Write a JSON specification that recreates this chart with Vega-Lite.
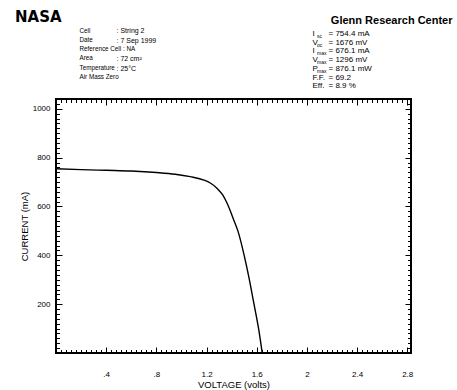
{
  "$schema": "https://vega.github.io/schema/vega-lite/v6.json",
  "width": 355,
  "height": 254,
  "autosize": {"type": "none"},
  "padding": {"left": 56, "top": 99, "right": 46, "bottom": 37},
  "background": "white",
  "title": {"text": "NASA", "anchor": "start", "frame": "group", "dx": -41, "dy": 15, "offset": 4, "font": "DejaVu Sans", "fontSize": 15, "fontWeight": "bold", "color": "black"},
  "data": {"values": [
    {"voltage": 0, "current": 754.4},
    {"voltage": 0.2, "current": 751},
    {"voltage": 0.4, "current": 748},
    {"voltage": 0.6, "current": 745},
    {"voltage": 0.8, "current": 739},
    {"voltage": 0.95, "current": 732},
    {"voltage": 1.07, "current": 722},
    {"voltage": 1.18, "current": 708},
    {"voltage": 1.23, "current": 696},
    {"voltage": 1.285, "current": 674},
    {"voltage": 1.33, "current": 646},
    {"voltage": 1.364, "current": 613},
    {"voltage": 1.417, "current": 545},
    {"voltage": 1.45, "current": 500},
    {"voltage": 1.5, "current": 400},
    {"voltage": 1.537, "current": 312},
    {"voltage": 1.577, "current": 204},
    {"voltage": 1.617, "current": 94},
    {"voltage": 1.644, "current": 0}
  ]},
  "layer": [
    {
      "mark": {"type": "line", "color": "black", "strokeWidth": 1.4, "interpolate": "monotone"},
      "encoding": {
        "x": {"field": "voltage", "type": "quantitative", "title": "VOLTAGE (volts)", "scale": {"domain": [0, 2.83], "nice": false, "zero": false},
          "axis": {"orient": "bottom", "domain": false, "ticks": false, "tickSize": 0, "values": [0.4, 0.8, 1.2, 1.6, 2, 2.4, 2.8], "labelExpr": "datum.value < 1 ? '.' + round(datum.value * 10) : format(datum.value, '.1~f')", "labelPadding": 17, "labelFontSize": 8,
            "grid": true, "gridColor": "black", "gridOpacity": 1, "gridWidth": 1, "gridDash": [6, 242, 6, 20],
            "titleFontSize": 9.5, "titlePadding": 1}},
        "y": {"field": "current", "type": "quantitative", "title": "CURRENT (mA)", "scale": {"domain": [0, 1040], "nice": false, "zero": false},
          "axis": {"orient": "left", "domain": false, "ticks": false, "tickSize": 0, "values": [200, 400, 600, 800, 1000], "format": "d", "labelPadding": 6, "labelFontSize": 8,
            "grid": true, "gridColor": "black", "gridOpacity": 1, "gridWidth": 1, "gridDash": [6, 343, 6, 20],
            "titleFontSize": 9.5, "titlePadding": 3}}
      }
    },
    {
      "mark": {"type": "line", "opacity": 0},
      "encoding": {
        "x": {"field": "voltage", "type": "quantitative",
          "axis": {"orient": "top", "domain": false, "ticks": false, "labels": false, "values": [0.04,0.08,0.12,0.16,0.2,0.24,0.28,0.32,0.36,0.4,0.44,0.48,0.52,0.56,0.6,0.64,0.68,0.72,0.76,0.8,0.84,0.88,0.92,0.96,1,1.04,1.08,1.12,1.16,1.2,1.24,1.28,1.32,1.36,1.4,1.44,1.48,1.52,1.56,1.6,1.64,1.68,1.72,1.76,1.8,1.84,1.88,1.92,1.96,2,2.04,2.08,2.12,2.16,2.2,2.24,2.28,2.32,2.36,2.4,2.44,2.48,2.52,2.56,2.6,2.64,2.68,2.72,2.76,2.8],
            "grid": true, "gridColor": "black", "gridOpacity": 1, "gridWidth": 1, "gridDash": [3.5, 247, 3.5, 20],
            "title": ["Cell", "Date", "Reference Cell : NA", "Area", "Temperature", "Air Mass Zero"], "titleFontSize": 6.3, "titleLineHeight": 9.33, "titleX": 23, "titleY": -72, "titleAlign": "left", "titleBaseline": "top", "titleAngle": 0}},
        "y": {"field": "current", "type": "quantitative",
          "axis": {"orient": "right", "domain": false, "ticks": false, "labels": false, "values": [20,40,60,80,100,120,140,160,180,200,220,240,260,280,300,320,340,360,380,400,420,440,460,480,500,520,540,560,580,600,620,640,660,680,700,720,740,760,780,800,820,840,860,880,900,920,940,960,980,1000,1020],
            "grid": true, "gridColor": "black", "gridOpacity": 1, "gridWidth": 1, "gridDash": [3.5, 348, 3.5, 20],
            "title": ["I", "V", "I", "V", "P", "F.F.", "Eff."], "titleFontSize": 8, "titleLineHeight": 8.7, "titleX": -99, "titleY": -69.4, "titleAlign": "left", "titleBaseline": "top", "titleAngle": 0}}
      }
    },
    {
      "mark": {"type": "line", "opacity": 0},
      "encoding": {
        "x": {"field": "voltage", "type": "quantitative",
          "axis": {"orient": "bottom", "domain": false, "ticks": false, "labels": false, "grid": false,
            "title": [": String 2", ": 7 Sep 1999"], "titleFontSize": 7, "titleLineHeight": 9.33, "titleX": 60, "titleY": -326.2, "titleAlign": "left", "titleBaseline": "top", "titleAngle": 0}},
        "y": {"field": "current", "type": "quantitative",
          "axis": {"orient": "left", "domain": false, "ticks": false, "labels": false, "grid": false,
            "title": ["sc", "oc", "max", "max", "max"], "titleFontSize": 5, "titleLineHeight": 8.7, "titleX": 260.5, "titleY": -65.5, "titleAlign": "left", "titleBaseline": "top", "titleAngle": 0}}
      }
    },
    {
      "mark": {"type": "line", "opacity": 0},
      "encoding": {
        "x": {"field": "voltage", "type": "quantitative",
          "axis": {"orient": "top", "domain": false, "ticks": false, "labels": false, "grid": false,
            "title": ["= 754.4 mA", "= 1676 mV", "= 676.1 mA", "= 1296 mV", "= 876.1 mW", "= 69.2", "= 8.9 %"], "titleFontSize": 8, "titleLineHeight": 8.7, "titleX": 272, "titleY": -69.4, "titleAlign": "left", "titleBaseline": "top", "titleAngle": 0}},
        "y": {"field": "current", "type": "quantitative",
          "axis": {"orient": "right", "domain": false, "ticks": false, "labels": false, "grid": false,
            "title": "Glenn Research Center", "titleFontSize": 11, "titleFontWeight": "bold", "titleX": 41, "titleY": -79, "titleAlign": "right", "titleBaseline": "middle", "titleAngle": 0}}
      }
    },
    {
      "mark": {"type": "line", "opacity": 0},
      "encoding": {
        "x": {"field": "voltage", "type": "quantitative",
          "axis": {"orient": "top", "ticks": false, "labels": false, "domain": false, "grid": false,
            "title": [": 72 cm²", ": 25°C"], "titleFontSize": 7, "titleLineHeight": 9.33, "titleX": 60, "titleY": -44.3, "titleAlign": "left", "titleBaseline": "top", "titleAngle": 0}},
        "y": {"field": "current", "type": "quantitative", "axis": null}
      }
    }
  ],
  "resolve": {"axis": {"x": "independent", "y": "independent"}},
  "config": {
    "view": {"stroke": "black", "strokeWidth": 2},
    "axis": {"labelFont": "Liberation Sans", "titleFont": "Liberation Sans", "labelColor": "black", "titleColor": "black", "titleFontWeight": "normal"}
  }
}
